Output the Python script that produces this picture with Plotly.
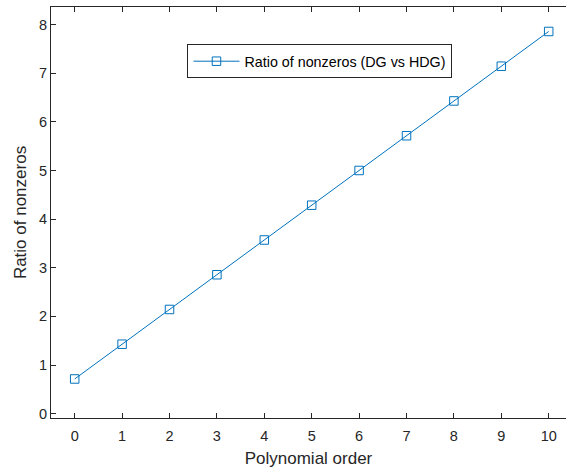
import plotly.graph_objects as go

orders = [0, 1, 2, 3, 4, 5, 6, 7, 8, 9, 10]
ratio = [0.714, 1.429, 2.143, 2.857, 3.571, 4.286, 5.0, 5.714, 6.429, 7.143, 7.857]
xticks = [0, 1, 2, 3, 4, 5, 6, 7, 8, 9, 10]
yticks = [0, 1, 2, 3, 4, 5, 6, 7, 8]
series_name = "Ratio of nonzeros (DG vs HDG)"

axcol = "#262626"
fig = go.Figure()
fig.add_trace(go.Scatter(
    x=orders, y=ratio, mode="lines+markers", name=series_name,
    line=dict(color="#0072BD", width=1),
    marker=dict(symbol="square-open", size=8.5, color="#0072BD", line=dict(width=1)),
))

fig.update_layout(
    width=566, height=473,
    margin=dict(l=51, r=0, t=7, b=55),
    paper_bgcolor="white", plot_bgcolor="white",
    font=dict(family="Liberation Sans, Arial, sans-serif", color=axcol, size=14),
    showlegend=True,
    legend=dict(x=0.265, y=0.909, xanchor="left", yanchor="top",
                bordercolor=axcol, borderwidth=1, bgcolor="white",
                font=dict(size=14.3, color="black"), itemwidth=46),
    xaxis=dict(range=[-0.5, 10.365], tickvals=xticks, ticks="inside", ticklen=5,
               tickcolor=axcol, showline=True, linecolor=axcol, linewidth=1,
               mirror="ticks", showgrid=False, zeroline=False,
               ticklabelstandoff=5,
               title=dict(text="Polynomial order", font=dict(size=17), standoff=8),
               tickfont=dict(size=14.5)),
    yaxis=dict(range=[-0.088, 8.36], tickvals=yticks, ticks="inside", ticklen=5,
               tickcolor=axcol, showline=True, linecolor=axcol, linewidth=1,
               mirror=False, showgrid=False, zeroline=False,
               title=dict(text="Ratio of nonzeros", font=dict(size=17), standoff=8),
               tickfont=dict(size=14.5)),
)

fig.write_html("out.html")
